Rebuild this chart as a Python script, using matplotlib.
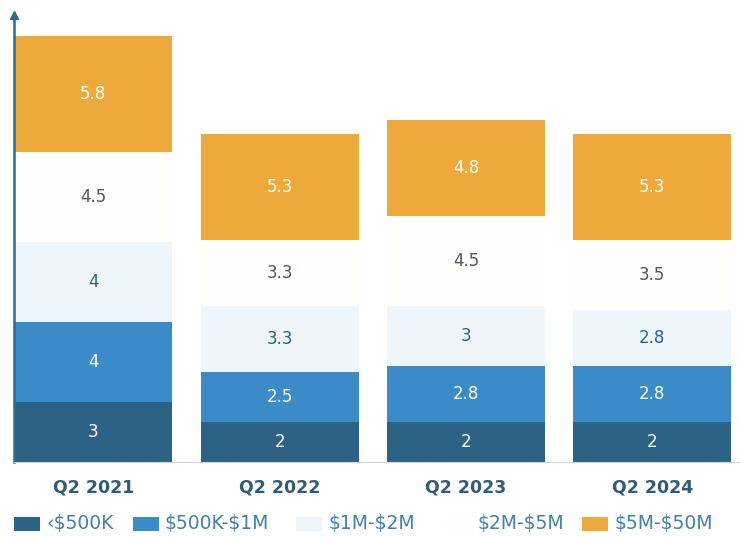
import matplotlib
matplotlib.use("Agg")
import matplotlib.pyplot as plt
from matplotlib.patches import Rectangle

quarters = ["Q2 2021", "Q2 2022", "Q2 2023", "Q2 2024"]
bands = ["\u2039\\$500K", "\\$500K-\\$1M", "\\$1M-\\$2M", "\\$2M-\\$5M", "\\$5M-\\$50M"]
under_500k = [3, 2, 2, 2]
k500_1m = [4, 2.5, 2.8, 2.8]
m1_2m = [4, 3.3, 3, 2.8]
m2_5m = [4.5, 3.3, 4.5, 3.5]
m5_50m = [5.8, 5.3, 4.8, 5.3]
series = [under_500k, k500_1m, m1_2m, m2_5m, m5_50m]

colors = ["#2c6385", "#3b8bc9", "#eef6fb", "#fffefa", "#eea93b"]
text_colors = ["white", "white", "#2f6480", "#4f5a5f", "white"]

fig = plt.figure(figsize=(7.4, 5.37), dpi=100)
ax = fig.add_axes([0.0189, 0.1397, 0.9811, 0.832])

x = list(range(len(quarters)))
bottom = [0.0] * len(quarters)
for vals, col, tcol in zip(series, colors, text_colors):
    bars = ax.bar(x, vals, bottom=bottom, width=0.848, color=col, linewidth=0)
    for xi, b, v in zip(x, bottom, vals):
        ax.text(xi, b + v / 2, f"{v:g}", ha="center", va="center",
                fontsize=12, color=tcol)
    bottom = [b + v for b, v in zip(bottom, vals)]

ax.set_xlim(-0.426, 3.471)
ax.set_ylim(0, 22.35)
ax.set_xticks(x)
ax.set_xticklabels(quarters, fontsize=12.5, fontweight="bold", color="#2f5d78")
ax.tick_params(axis="x", length=0, pad=12)
ax.set_yticks([])

for s in ["top", "right"]:
    ax.spines[s].set_visible(False)
ax.spines["left"].set_color("#2f6a8f")
ax.spines["left"].set_linewidth(1.8)
ax.spines["bottom"].set_color("#d5d8da")
ax.spines["bottom"].set_linewidth(0.8)
ax.plot(0, 1, marker="^", color="#2f6a8f", markersize=6,
        transform=ax.transAxes, clip_on=False)

# legend drawn by hand so spacing follows the original
leg_x = [14, 133, 296, 446, 582]
for lx, col, name in zip(leg_x, colors, bands):
    fig.patches.append(Rectangle((lx / 740, 6 / 537), 26 / 740, 14 / 537,
                                 transform=fig.transFigure, facecolor=col,
                                 edgecolor="none"))
    fig.text((lx + 32) / 740, 13 / 537, name, fontsize=13.5, color="#3f82ab",
             va="center", ha="left")

fig.savefig("out.png", dpi=100)
